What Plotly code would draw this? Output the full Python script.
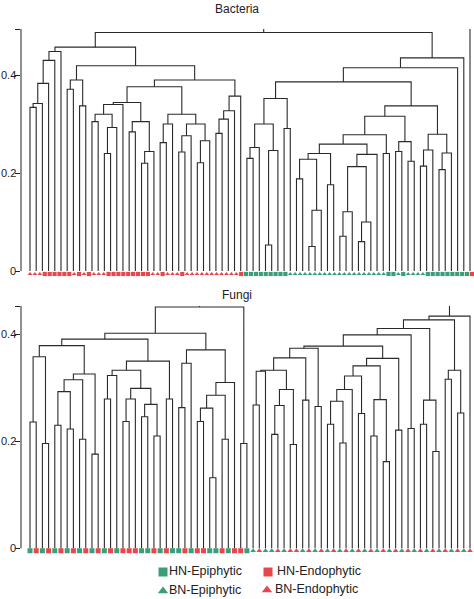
import re
import numpy as np
import plotly.graph_objects as go

# ---------------- data ----------------
# Dendrograms in a compact nested notation: "o" = sample (leaf), "(left,right)h" = merge at height h
B_L1 = "(((((o,o)0.334,o)0.342,o)0.383,o)0.43,o)0.448"
B_M1 = "((o,o)0.371,(o,o)0.337)0.39"
B_M5 = "((((o,o)0.305,((o,o)0.24,o)0.293)0.32,o)0.34,((o,o)0.284,((o,o)0.22,o)0.244)0.305)0.344"
B_M6 = "(((o,o)0.262,o)0.3,(((o,o)0.243,o)0.276,((o,o)0.221,o)0.266)0.3)0.32"
B_M4 = "((((o,o)0.281,o)0.31,o)0.327,o)0.357"
B_E = "((((o,o)0.23,o)0.252,((o,o)0.053,o)0.246)0.3,(o,o)0.291)0.352"
B_F3 = ("(((((o,o)0.188,((o,o)0.05,o)0.124)0.228,(o,o)0.176)0.24,"
        "((((o,o)0.071,o)0.121,((o,o)0.06,o)0.1)0.213,o)0.238)0.259,(o,o)0.24)0.278")
B_F4 = "((o,o)0.244,(o,o)0.224)0.264"
B_F2 = "(((o,o)0.214,o)0.247,((o,o)0.207,o)0.241)0.279"
BACTERIA_TREE = (
    "(((" + B_L1 + ",(" + B_M1 + ",((" + B_M5 + "," + B_M6 + ")0.376," + B_M4 + ")0.39)0.419)0.457,"
    "(((" + B_E + ",((" + B_F3 + "," + B_F4 + ")0.316," + B_F2 + ")0.337)0.386,o)0.415,o)0.435)0.487,o)0.496"
)

F_LB3 = "(((o,o)0.236,(o,o)0.196)0.358,((((o,o)0.23,(o,o)0.223)0.293,(o,o)0.204)0.315,(o,o)0.176)0.326)0.379"
F_LB4 = "((((o,o)0.279,o)0.323,(((o,o)0.237,o)0.279,((o,o)0.246,(o,o)0.21)0.269)0.299)0.333,(o,o)0.279)0.35"
F_LB2 = "(((o,o)0.263,o)0.346,((((o,o)0.237,(o,o)0.132)0.262,(o,o)0.204)0.286,o)0.31)0.371"
F_X = "(((((o,o)0.268,o)0.331,(((o,o)0.213,o)0.267,(o,o)0.194)0.297)0.333,(o,o)0.277)0.356,(o,o)0.265)0.374"
F_Q8 = "((((((o,o)0.232,(o,o)0.197)0.275,o)0.297,(o,o)0.252)0.322,((o,o)0.21,(o,o)0.162)0.278)0.341,(o,o)0.221)0.355"
F_Q5 = "((o,o)0.232,(o,o)0.181)0.277"
F_Q3 = "((o,o)0.316,(o,o)0.253)0.333"
FUNGI_TREE = (
    "((((" + F_LB3 + "," + F_LB4 + ")0.391," + F_LB2 + ")0.402,(o,o)0.196)0.451,"
    "(((((" + F_X + "," + F_Q8 + ")0.378,(o,o)0.224)0.399," + F_Q5 + ")0.411," + F_Q3 + ")0.427,o)0.434)0.455"
)

# sample-type strips  (a: HN-Epiphytic, b: HN-Endophytic, c: BN-Epiphytic, d: BN-Endophytic)
BACTERIA_STRIP = list(
    "dddbbbbbbdbdbdddbbbbbbbbbddbdddbdddddddddddb"
    "aaaaaaaaa" "cccccccccccccccccccc" "aacacccc" "aaaaaaaaa" "b"
)
FUNGI_STRIP = list(
    "abababababab" "ababbbaababa" "ababbaababba"
    "cdccdcddcdcd" "cdcdcdcdcdcd" "cdcdcdcdcdcd"
)

CATEGORIES = ["a", "b", "c", "d"]
CATEGORY_NAMES = ["HN-Epiphytic", "HN-Endophytic", "BN-Epiphytic", "BN-Endophytic"]
CATEGORY_SYMBOLS = ["square", "square", "triangle-up", "triangle-up"]
GREEN = "#3a9e78"
RED = "#e8464d"
CATEGORY_COLORS = [GREEN, RED, GREEN, RED]

Y_TICKS = [0, 0.2, 0.4]
Y_TICK_TEXT = ["0", "0.2", "0.4"]
PANEL_TITLES = ["Bacteria", "Fungi"]
Y_TOPS = [0.494, 0.453]


# ---------------- helpers ----------------
def parse(s):
    s = s.replace(" ", "")
    pos = 0

    def node():
        nonlocal pos
        if s[pos] == "o":
            pos += 1
            return None
        pos += 1  # (
        left = node()
        pos += 1  # ,
        right = node()
        pos += 1  # )
        m = re.match(r"[0-9.]+", s[pos:])
        pos += len(m.group())
        return (float(m.group()), left, right)

    return node()


def segments(tree):
    xs, ys = [], []
    counter = [0]

    def walk(n):
        if n is None:
            x = counter[0]
            counter[0] += 1
            return x, 0.0
        h, l, r = n
        xl, hl = walk(l)
        xr, hr = walk(r)
        xs.extend([xl, xl, xr, xr, None])
        ys.extend([hl, h, h, hr, None])
        return (xl + xr) / 2.0, h

    walk(tree)
    return xs, ys, counter[0]


W, H = 474, 599
AX_LEFT = 21
LEAF_PX0, LEAF_PX1 = 30, 470
PAD_PX = 8  # space below zero for the sample strip

fig = go.Figure()

panels = [
    dict(tree=BACTERIA_TREE, strip=BACTERIA_STRIP, ytop_px=29, y0_px=271, strip_px=(30, 472), msize=4.2, moff=3),
    dict(tree=FUNGI_TREE, strip=FUNGI_STRIP, ytop_px=306, y0_px=548.3, strip_px=None, msize=5, moff=2.5),
]

line_color = "#2a2a2a"
FONT = "Arial, Liberation Sans, sans-serif"
for i, p in enumerate(panels):
    xs, ys, n = segments(parse(p["tree"]))
    unit = (LEAF_PX1 - LEAF_PX0) / (n - 1)
    r0 = -(LEAF_PX0 - AX_LEFT) / unit
    r1 = r0 + (W - AX_LEFT) / unit
    key = "" if i == 0 else "2"
    xa, ya = "x" + key, "y" + key
    fig.add_trace(go.Scatter(x=xs, y=ys, mode="lines", xaxis=xa, yaxis=ya,
                             line=dict(color=line_color, width=1.1), hoverinfo="skip",
                             showlegend=False))
    ytop = Y_TOPS[i]
    ppu = (p["y0_px"] - p["ytop_px"]) / ytop
    ybot = -PAD_PX / ppu
    strip = p["strip"]
    if p["strip_px"] is None:
        mx = np.arange(len(strip), dtype=float)
    else:
        px = np.linspace(p["strip_px"][0], p["strip_px"][1], len(strip))
        mx = (px - LEAF_PX0) / unit
    my = np.full(len(strip), -p["moff"] / ppu)
    for cat, sym, col in zip(CATEGORIES, CATEGORY_SYMBOLS, CATEGORY_COLORS):
        idx = [k for k, c in enumerate(strip) if c == cat]
        if not idx:
            continue
        fig.add_trace(go.Scatter(x=mx[idx].tolist(), y=my[idx].tolist(), mode="markers", xaxis=xa, yaxis=ya,
                                 marker=dict(symbol=sym, size=p["msize"], color=col, line=dict(width=0)),
                                 hoverinfo="skip", showlegend=False))
    dom_y = [(H - p["y0_px"] - PAD_PX) / H, (H - p["ytop_px"]) / H]
    fig.update_layout(**{
        "xaxis" + key: dict(domain=[AX_LEFT / W, 1], range=[r0, r1], visible=False, fixedrange=True),
        "yaxis" + key: dict(domain=dom_y, range=[ybot, ytop], showgrid=False, zeroline=False,
                            showline=False, ticks="outside", ticklen=5, tickcolor="#222", tickwidth=1,
                            tickvals=Y_TICKS + [ytop], showticklabels=False,
                            automargin=False, anchor=xa, fixedrange=True),
    })
    # axis line from 0 to the top only
    fig.add_shape(type="line", xref=xa + " domain", yref=ya, x0=0, x1=0, y0=0, y1=ytop,
                  line=dict(color="#222", width=1))
    # tick labels
    for tv, tt in zip(Y_TICKS, Y_TICK_TEXT):
        fig.add_annotation(text=tt, xref="paper", yref=ya, x=16.8 / W, y=tv, showarrow=False,
                           xanchor="right", yanchor="middle", borderpad=0,
                           font=dict(family=FONT, size=11, color="#222"))
    fig.add_annotation(text=PANEL_TITLES[i], xref="paper", yref="paper", x=237 / W,
                       y=(H - (9 if i == 0 else 295)) / H, showarrow=False, xanchor="center",
                       yanchor="middle", font=dict(family=FONT, size=12, color="#222"))

# legend drawn in a pixel-scaled helper axis
LEG_MX = [163, 268, 163, 267]
LEG_MY = [572, 572, 591, 590]
LEG_TX = [169, 277, 169, 275]
for k in range(4):
    fig.add_trace(go.Scatter(x=[LEG_MX[k]], y=[LEG_MY[k]], mode="markers", xaxis="x3", yaxis="y3",
                             marker=dict(symbol=CATEGORY_SYMBOLS[k], size=9, color=CATEGORY_COLORS[k]),
                             cliponaxis=False, hoverinfo="skip", showlegend=False))
    fig.add_trace(go.Scatter(x=[LEG_TX[k]], y=[LEG_MY[k]], mode="text", xaxis="x3", yaxis="y3",
                             text=[CATEGORY_NAMES[k]], textposition="middle right",
                             textfont=dict(family=FONT, size=12.5, color="#222"),
                             cliponaxis=False, hoverinfo="skip", showlegend=False))

fig.update_layout(
    xaxis3=dict(domain=[0, 1], range=[0, W], visible=False, fixedrange=True),
    yaxis3=dict(domain=[0, 43 / H], range=[H, H - 43], visible=False, fixedrange=True, anchor="x3"),
    width=W, height=H, margin=dict(l=0, r=0, t=0, b=0),
    paper_bgcolor="white", plot_bgcolor="white", template="none", showlegend=False,
)

fig.write_html("out.html", config={"displayModeBar": False, "staticPlot": True},
               post_script="document.body.style.margin='0';document.body.style.padding='0';")
